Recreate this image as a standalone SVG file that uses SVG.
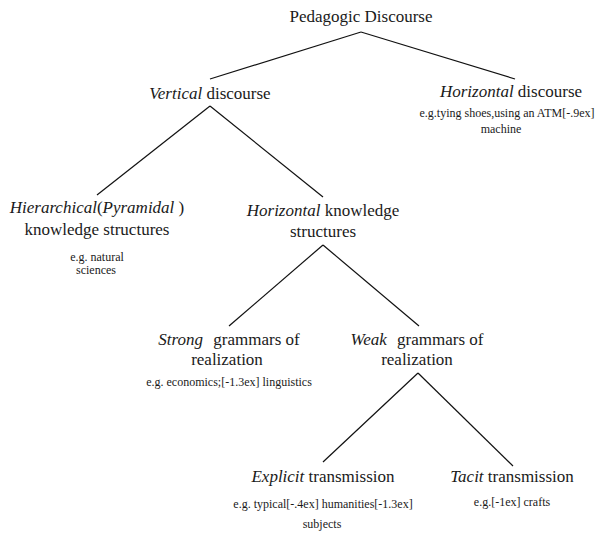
<svg xmlns="http://www.w3.org/2000/svg" width="603" height="535" viewBox="0 0 603 535">
<rect x="0" y="0" width="603" height="535" fill="#ffffff"/>
<g id="connectors" stroke="#111111" stroke-width="1.2" fill="none">
<line x1="361" y1="32" x2="210" y2="79"/>
<line x1="361" y1="32" x2="515" y2="79"/>
<line x1="210" y1="106" x2="97" y2="195"/>
<line x1="210" y1="106" x2="323" y2="197"/>
<line x1="323" y1="245" x2="229" y2="326"/>
<line x1="323" y1="245" x2="419" y2="326"/>
<line x1="418" y1="373" x2="323" y2="462"/>
<line x1="418" y1="373" x2="513" y2="466"/>
</g>
<g fill="#1a1a1a" text-anchor="middle">
<g id="pedagogic">
<text font-family="Liberation Serif" font-size="17" x="361" y="22">Pedagogic Discourse</text>
</g>
<g id="vertical">
<text font-family="Liberation Serif" font-size="17" x="210" y="99"><tspan font-style="italic">Vertical</tspan> discourse</text>
</g>
<g id="horizontal-discourse">
<text font-family="Liberation Serif" font-size="17" x="511" y="97"><tspan font-style="italic">Horizontal</tspan> discourse</text>
<text font-family="Liberation Serif" font-size="12" x="507" y="117">e.g.tying shoes,using an ATM[-.9ex]</text>
<text font-family="Liberation Serif" font-size="12" x="501" y="133">machine</text>
</g>
<g id="hierarchical">
<text font-family="Liberation Serif" font-size="17" x="97" y="213"><tspan font-style="italic">Hierarchical</tspan>(<tspan font-style="italic">Pyramidal</tspan> )</text>
<text font-family="Liberation Serif" font-size="17" x="97" y="235">knowledge structures</text>
<text font-family="Liberation Serif" font-size="12" x="97" y="261">e.g. natural</text>
<text font-family="Liberation Serif" font-size="12" x="96" y="274">sciences</text>
</g>
<g id="horizontal-knowledge">
<text font-family="Liberation Serif" font-size="17" x="323" y="216"><tspan font-style="italic">Horizontal</tspan> knowledge</text>
<text font-family="Liberation Serif" font-size="17" x="323" y="237">structures</text>
</g>
<g id="strong">
<text font-family="Liberation Serif" font-size="17" x="229" y="345"><tspan font-style="italic">Strong</tspan><tspan dx="6"> grammars of</tspan></text>
<text font-family="Liberation Serif" font-size="17" x="227" y="365">realization</text>
<text font-family="Liberation Serif" font-size="12" x="229" y="386">e.g. economics;[-1.3ex] linguistics</text>
</g>
<g id="weak">
<text font-family="Liberation Serif" font-size="17" x="417" y="345"><tspan font-style="italic">Weak</tspan><tspan dx="6"> grammars of</tspan></text>
<text font-family="Liberation Serif" font-size="17" x="417" y="365">realization</text>
</g>
<g id="explicit">
<text font-family="Liberation Serif" font-size="17" x="323" y="482"><tspan font-style="italic">Explicit</tspan> transmission</text>
<text font-family="Liberation Serif" font-size="12" x="323" y="508">e.g. typical[-.4ex] humanities[-1.3ex]</text>
<text font-family="Liberation Serif" font-size="12" x="322" y="528">subjects</text>
</g>
<g id="tacit">
<text font-family="Liberation Serif" font-size="17" x="512" y="482"><tspan font-style="italic">Tacit</tspan> transmission</text>
<text font-family="Liberation Serif" font-size="12" x="512" y="506">e.g.[-1ex] crafts</text>
</g>
</g>
</svg>
